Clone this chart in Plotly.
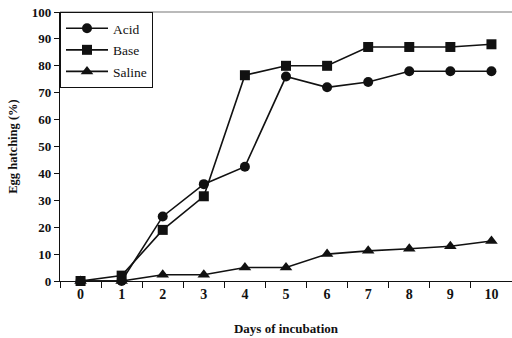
import plotly.graph_objects as go

days = ["0", "1", "2", "3", "4", "5", "6", "7", "8", "9", "10"]
acid = [0, 0, 24, 36, 42.5, 76, 72, 74, 78, 78, 78]
base = [0, 2, 19, 31.5, 76.5, 80, 80, 87, 87, 87, 88]
saline = [0, 0, 2.3, 2.3, 5, 5, 10, 11.2, 12, 12.9, 14.9]
y_ticks = list(range(0, 101, 10))

font_fam = "Liberation Serif"
fig = go.Figure()
series = [("Acid", acid, "circle", 10), ("Base", base, "square", 10), ("Saline", saline, "triangle-up", 11)]
for name, vals, sym, sz in series:
    fig.add_trace(go.Scatter(
        x=days, y=vals, name=name, mode="lines+markers", legendgroup=name,
        line=dict(color="#111111", width=1.6),
        marker=dict(symbol=sym, size=sz, color="#111111"),
        cliponaxis=False,
    ))

fig.update_layout(
    width=512, height=338,
    margin=dict(l=60, r=0, t=12, b=57, autoexpand=False),
    paper_bgcolor="white", plot_bgcolor="white",
    font=dict(family=font_fam, color="#111111", size=13),
    showlegend=True,
    legend=dict(x=0, y=1, xanchor="left", yanchor="top",
                bordercolor="#111111", borderwidth=1, bgcolor="white",
                font=dict(family=font_fam, size=13.5), tracegroupgap=1,
                itemwidth=42),
    xaxis=dict(type="category", categoryorder="array", categoryarray=days,
               range=[-0.5, 10.5], showline=True, linecolor="#111111", linewidth=1.2,
               ticks="outside", tickson="boundaries", ticklen=6, tickcolor="#111111",
               showgrid=False, zeroline=False, automargin=True,
               tickfont=dict(family=font_fam, size=14, weight="bold"),
               title=dict(text="<b>Days of incubation</b>", font=dict(family=font_fam, size=13),
                          standoff=22)),
    yaxis=dict(range=[0, 100], tickvals=y_ticks, showline=True, linecolor="#111111", linewidth=1.2,
               ticks="outside", ticklen=5, tickcolor="#111111", showgrid=False, zeroline=False,
               automargin=True, ticklabeloverflow="allow",
               tickfont=dict(family=font_fam, size=13, weight="bold"),
               title=dict(text="<b>Egg hatching (%)</b>", font=dict(family=font_fam, size=12.5),
                          standoff=11)),
)
fig.add_shape(type="line", xref="paper", yref="paper", x0=0, x1=1, y0=1, y1=1,
              line=dict(color="#777777", width=1.2))
fig.write_html("out.html", config={"displayModeBar": False},
               post_script="document.body.style.margin='0';")
